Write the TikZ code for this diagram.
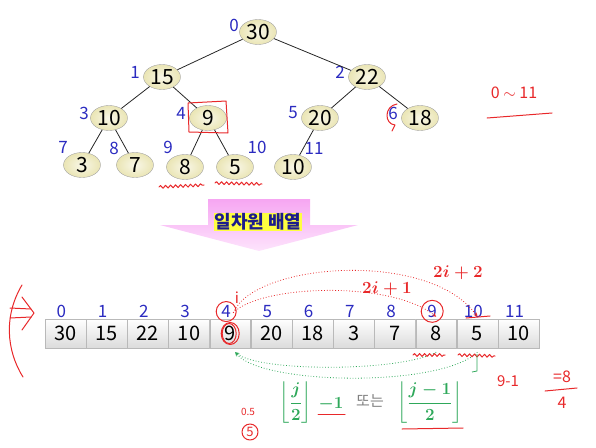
\RequirePackage{fix-cm}
\documentclass[tikz,border=0pt]{standalone}
\usepackage{amsmath,bm}
\usepackage[no-math]{fontspec}
\setmainfont{Noto Sans CJK KR}
\usetikzlibrary{shapes.geometric,positioning,decorations.pathmorphing}
\definecolor{idxblue}{HTML}{2B2BC0}
\definecolor{tcream}{HTML}{EAE5B4}
\definecolor{hred}{HTML}{E8282A}
\definecolor{fgreen}{HTML}{2EA85A}
\definecolor{kblue}{HTML}{1C1C8C}
\definecolor{hyellow}{HTML}{FFFF40}
\definecolor{pinktop}{HTML}{F6A6F2}
\definecolor{pinkbot}{HTML}{FDE4FC}

\begin{document}
\begin{tikzpicture}[x=1pt,y=-1pt,>=stealth,
    tnode/.style={ellipse,draw=gray!70,inner color=white!70!tcream,outer color=tcream,minimum width=37pt,minimum height=25pt,inner sep=0pt,font=\fontsize{21}{21}\selectfont},
    tidx/.style={text=idxblue,inner sep=0pt,font=\fontsize{17}{17}\selectfont},
    cell/.style={rectangle,draw=gray!55,top color=white,bottom color=gray!28,minimum width=40.8pt,minimum height=29pt,inner sep=0pt,font=\fontsize{20}{20}\selectfont},
    aidx/.style={above=1pt of #1,xshift=-4pt,text=idxblue,inner sep=0pt,font=\fontsize{17}{17}\selectfont},
    hand/.style={draw=hred,line width=1pt,line cap=round,line join=round},
    wave/.style={hand,decorate,decoration={snake,amplitude=1.4pt,segment length=5pt}},
    red arc/.style={draw=hred,dotted,thick,->},
    green arc/.style={draw=fgreen,dotted,thick,->}]
    \useasboundingbox (0,0) rectangle (596,447);

    % tree
    \node[tnode] (t0) at (258,32) {30};
    \node[tnode] (t1) at (162,77) {15};
    \node[tnode] (t2) at (367,77) {22};
    \node[tnode] (t3) at (109,118) {10};
    \node[tnode] (t4) at (208,118) {9};
    \node[tnode] (t5) at (320,118) {20};
    \node[tnode] (t6) at (420,118) {18};
    \node[tnode] (t7) at (82,165) {3};
    \node[tnode] (t8) at (135,165) {7};
    \node[tnode] (t9) at (185,167) {8};
    \node[tnode] (t10) at (235,167) {5};
    \node[tnode] (t11) at (293,167) {10};

    \node[tidx] (l0) at (234,25) {0};
    \node[tidx] (l1) at (135,72) {1};
    \node[tidx] (l2) at (340,72) {2};
    \node[tidx] (l3) at (84,113) {3};
    \node[tidx] (l4) at (181,113) {4};
    \node[tidx] (l5) at (293,113) {5};
    \node[tidx] (l6) at (393,113) {6};
    \node[tidx] (l7) at (63,147) {7};
    \node[tidx] (l8) at (114,148) {8};
    \node[tidx] (l9) at (168,147) {9};
    \node[tidx] (l10) at (257,147) {10};
    \node[tidx] (l11) at (314,148) {11};

    \path[draw=black!85,line width=0.8pt]
        (t0) edge (t1)
        (t0) edge (t2)
        (t1) edge (t3)
        (t1) edge (t4)
        (t2) edge (t5)
        (t2) edge (t6)
        (t3) edge (t7)
        (t3) edge (t8)
        (t4) edge (t9)
        (t4) edge (t10)
        (t5) edge (t11)
    ;

    % arrow
    \path[top color=pinktop,bottom color=pinkbot]
        (208,199) -- (310,199) -- (310,225) -- (358,225) -- (259,251) -- (160,225) -- (208,225) -- cycle;
    \node[fill=hyellow,text=kblue,inner sep=1pt,font=\fontsize{18}{18}\selectfont\bfseries] (title) at (258,222) {일차원 배열};

    % array
    \node[cell] (a0) at (65.4,333.5) {30};
    \node[cell] (a1) [right=0pt of a0] {15};
    \node[cell] (a2) [right=0pt of a1] {22};
    \node[cell] (a3) [right=0pt of a2] {10};
    \node[cell] (a4) [right=0pt of a3] {9};
    \node[cell] (a5) [right=0pt of a4] {20};
    \node[cell] (a6) [right=0pt of a5] {18};
    \node[cell] (a7) [right=0pt of a6] {3};
    \node[cell] (a8) [right=0pt of a7] {7};
    \node[cell] (a9) [right=0pt of a8] {8};
    \node[cell] (a10) [right=0pt of a9] {5};
    \node[cell] (a11) [right=0pt of a10] {10};

    \node[aidx=a0] (i0) {0};
    \node[aidx=a1] (i1) {1};
    \node[aidx=a2] (i2) {2};
    \node[aidx=a3] (i3) {3};
    \node[aidx=a4] (i4) {4};
    \node[aidx=a5] (i5) {5};
    \node[aidx=a6] (i6) {6};
    \node[aidx=a7] (i7) {7};
    \node[aidx=a8] (i8) {8};
    \node[aidx=a9] (i9) {9};
    \node[aidx=a10] (i10) {10};
    \node[aidx=a11] (i11) {11};

    % parent -> children
    \coordinate (s) at ([xshift=3pt,yshift=6pt]a4.north);
    \draw[red arc] (s) .. controls (260,285) and (390,280) .. ([yshift=2pt]a9.north);
    \draw[red arc] (s) .. controls (255,262) and (430,250) .. ([yshift=2pt]a10.north);
    \node[text=hred,font=\fontsize{17}{17}\selectfont\boldmath] (c1) at (387,289) {$2i+1$};
    \node[text=hred,font=\fontsize{17}{17}\selectfont\boldmath] (c2) at (458,273) {$2i+2$};

    % child -> parent
    \draw[green arc] ([yshift=-4pt]a9.south) .. controls (400,372) and (260,372) .. ([xshift=5pt,yshift=-4pt]a4.south);
    \draw[green arc] ([yshift=-4pt]a10.south) .. controls (440,388) and (262,385) .. ([xshift=5pt,yshift=-4pt]a4.south);

    \node[text=fgreen,font=\fontsize{17}{17}\selectfont\boldmath] (f1) at (296,403) {$\left\lfloor\dfrac{j}{2}\right\rfloor$};
    \node[text=fgreen,font=\fontsize{17}{17}\selectfont\boldmath] (m1) at (331,404) {$-1$};
    \node[text=gray,font=\fontsize{15}{15}\selectfont] (or) at (370,401) {또는};
    \node[text=fgreen,font=\fontsize{17}{17}\selectfont\boldmath] (f2) at (430,403) {$\left\lfloor\dfrac{j-1}{2}\right\rfloor$};

    % handwriting
    \draw[hand] (188,103) -- (226,101) -- (228,133) -- (189,132) -- cycle;
    \draw[hand] (397,104) .. controls (384,106) and (384,124) .. (395,125) -- (392,131);
    \draw[wave] (159,187) -- (204,185);
    \draw[wave] (215,183) -- (262,184);
    \node[text=hred,font=\fontsize{16}{16}\selectfont] (r0) at (514,93) {0 $\sim$ 11};
    \draw[hand] (487,118) -- (552,113);

    \draw[hand] (22,285) .. controls (4,315) and (6,350) .. (23,377);
    \draw[hand] (10,308) -- (31,309);
    \draw[hand] (10,318) -- (31,317);
    \draw[hand] (22,297) -- (34,313) -- (22,330);

    \draw[hand] (i4) ellipse (10pt and 10pt);
    \node[text=hred,font=\fontsize{15}{15}\selectfont,inner sep=0pt] (ii) at (237,298) {i};
    \draw[hand] (a4) ellipse (9pt and 11pt);
    \draw[hand] ([xshift=-1pt]a4.center) ellipse (7pt and 10pt);
    \draw[hand] (i9) circle (11pt);
    \draw[hand] (466,318) -- (490,316);
    \draw[wave] (413,355) -- (445,355);
    \draw[wave] (458,355) -- (495,356);
    \draw[fgreen,thick] (477,354) -- (477,371) -- (472,372);

    \node[text=hred,font=\fontsize{15}{15}\selectfont] (r1) at (508,381) {9-1};
    \node[text=hred,font=\fontsize{16}{16}\selectfont] (r2) at (562,377) {=8};
    \draw[hand] (545,391) -- (577,388);
    \node[text=hred,font=\fontsize{16}{16}\selectfont] (r3) at (562,403) {4};

    \draw[hand] (318,414) -- (345,414);
    \draw[hand] (402,429) -- (463,428);
    \node[text=hred,font=\fontsize{10}{10}\selectfont] (r4) at (248,412) {0.5};
    \draw[hand] (250,432) circle (8pt);
    \node[text=hred,font=\fontsize{13}{13}\selectfont] (r5) at (250,432) {5};
\end{tikzpicture}
\end{document}
